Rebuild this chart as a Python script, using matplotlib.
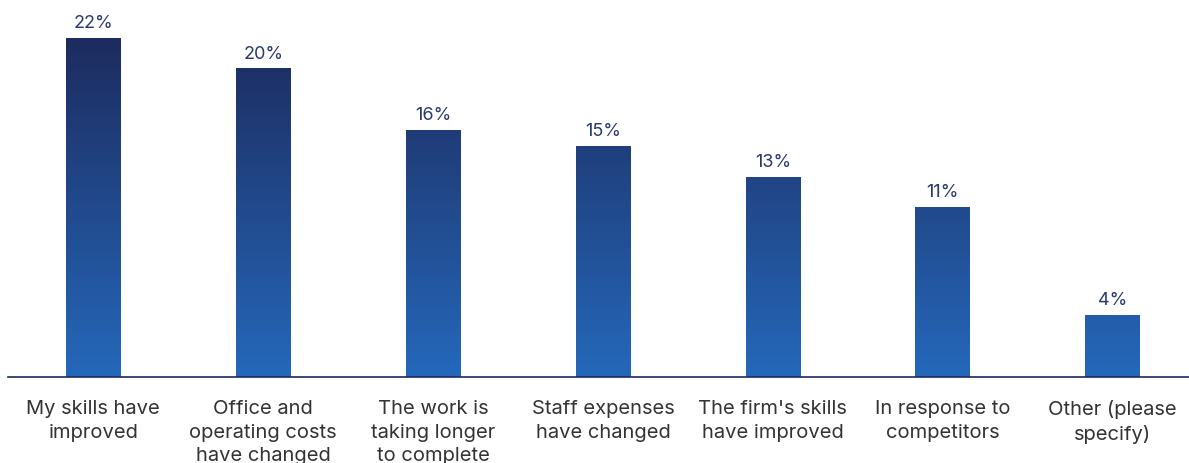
import numpy as np
import matplotlib
matplotlib.use("Agg")
import matplotlib.pyplot as plt
from matplotlib.colors import LinearSegmentedColormap

categories = [
    "My skills have\nimproved",
    "Office and\noperating costs\nhave changed",
    "The work is\ntaking longer\nto complete",
    "Staff expenses\nhave changed",
    "The firm's skills\nhave improved",
    "In response to\ncompetitors",
    "Other (please\nspecify)",
]
values = [22, 20, 16, 15, 13, 11, 4]

plt.rcParams["font.family"] = ["Inter", "DejaVu Sans"]

fig = plt.figure(figsize=(11.89, 4.64), dpi=100)
ax = fig.add_axes([0.007, 0.185, 0.993, 0.815])

x = np.arange(len(categories))
bars = ax.bar(x, values, width=0.32, color="none", zorder=2)

ymax = 24.5
ax.set_xlim(-0.5, len(categories) - 0.55)
ax.set_ylim(0, ymax)

# vertical gradient shared by all bars (dark at the top, lighter at the base)
cmap = LinearSegmentedColormap.from_list("blues", ["#2568bb", "#1d2a5c"])
grad = np.linspace(0, 1, 256).reshape(-1, 1)
for bar in bars:
    im = ax.imshow(grad, cmap=cmap, origin="lower", aspect="auto",
                   extent=[-0.5, len(categories), 0, 22.5], zorder=1, vmin=0, vmax=1)
    im.set_clip_path(bar)

for xi, v in zip(x, values):
    ax.text(xi, v + 0.45, f"{v}%", ha="center", va="bottom",
            fontsize=13, color="#2a3870")

ax.set_xticks(x)
ax.set_xticklabels(categories, fontsize=14.5, color="#333333", linespacing=1.38, va="top")
ax.tick_params(axis="x", length=0, pad=16)
ax.set_yticks([])

for side in ["top", "right", "left"]:
    ax.spines[side].set_visible(False)
ax.spines["bottom"].set_color("#1d2a5c")
ax.spines["bottom"].set_linewidth(1.2)

fig.savefig("out.png", dpi=100)
